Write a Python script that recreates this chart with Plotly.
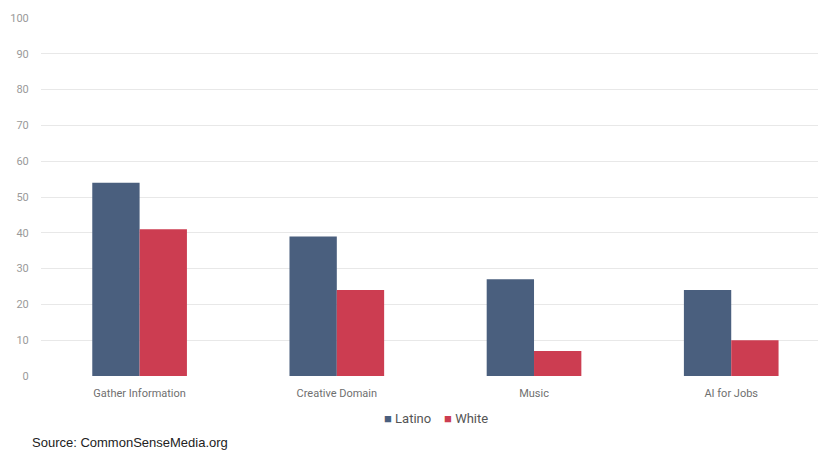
import plotly.graph_objects as go

categories = ["Gather Information", "Creative Domain", "Music", "AI for Jobs"]
latino = [54, 39, 27, 24]
white = [41, 24, 7, 10]
y_ticks = list(range(0, 101, 10))
series_names = ["Latino", "White"]
series_colors = ["#4a5f7e", "#cc3d51"]

fig = go.Figure()
fig.add_trace(go.Bar(x=categories, y=latino, name=series_names[0], marker_color=series_colors[0],
                     marker_line_width=0))
fig.add_trace(go.Bar(x=categories, y=white, name=series_names[1], marker_color=series_colors[1],
                     marker_line_width=0))

fig.update_layout(
    width=818, height=451,
    margin=dict(l=41, r=0, t=18, b=75),
    paper_bgcolor="white", plot_bgcolor="white",
    barmode="group", bargap=0.52, bargroupgap=0,
    font=dict(family="Roboto, sans-serif", size=11, color="#7a7a7a"),
    xaxis=dict(range=[-0.5, 3.44], showgrid=False, zeroline=False, showline=False,
               ticks="outside", ticklen=7, tickcolor="rgba(0,0,0,0)",
               tickfont=dict(size=11, color="#6f6f6f")),
    yaxis=dict(range=[0, 100], tickvals=y_ticks, showgrid=True, gridcolor="#e8e8e8",
               gridwidth=1, zeroline=False, showline=False, ticks="outside",
               ticklen=9, tickcolor="rgba(0,0,0,0)",
               tickfont=dict(size=11, color="#9a9a9a")),
    showlegend=False,
)

legend_text = "&nbsp;&nbsp;&nbsp;&nbsp;".join(
    f"<span style='color:{c};font-size:13px'>■</span>&nbsp;{n}" for n, c in zip(series_names, series_colors)
)
fig.add_annotation(text=legend_text, xref="paper", yref="paper",
                   x=(436-41)/777, xanchor="center", y=-(418-376)/358, yanchor="middle",
                   showarrow=False,
                   font=dict(family="Roboto, sans-serif", size=13, color="#555555"))

fig.add_annotation(text="Source: CommonSenseMedia.org", xref="paper", yref="paper",
                   x=0, xanchor="left", y=-(443-376)/358, yanchor="middle",
                   xshift=-11, showarrow=False,
                   font=dict(family="Liberation Sans, Arial, sans-serif", size=13, color="#222222"))

fig.write_html("out.html")
